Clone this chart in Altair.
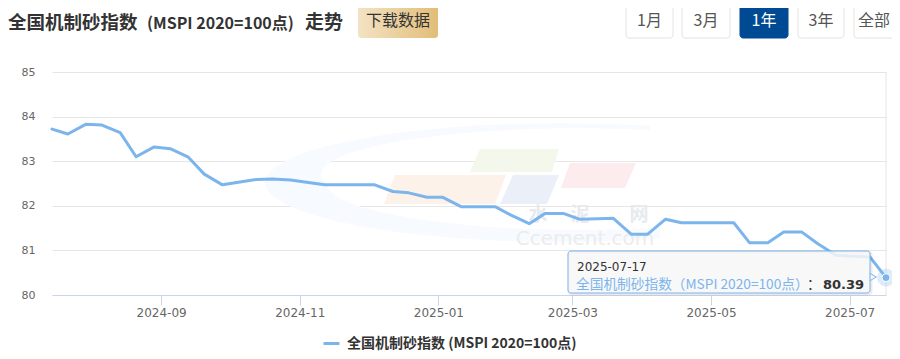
import altair as alt
import pandas as pd

# ---------------- data ----------------
dates = [
    "2024-07-15", "2024-07-22", "2024-07-30", "2024-08-06", "2024-08-14",
    "2024-08-21", "2024-08-29", "2024-09-05", "2024-09-13", "2024-09-20",
    "2024-09-28", "2024-10-05", "2024-10-13", "2024-10-20", "2024-10-28",
    "2024-11-04", "2024-11-12", "2024-11-19", "2024-11-27", "2024-12-04",
    "2024-12-12", "2024-12-19", "2024-12-27", "2025-01-03", "2025-01-11",
    "2025-01-18", "2025-01-26", "2025-02-02", "2025-02-10", "2025-02-17",
    "2025-02-25", "2025-03-04", "2025-03-12", "2025-03-19", "2025-03-27",
    "2025-04-03", "2025-04-11", "2025-04-18", "2025-04-26", "2025-05-03",
    "2025-05-11", "2025-05-18", "2025-05-26", "2025-06-02", "2025-06-10",
    "2025-06-17", "2025-06-25", "2025-07-02", "2025-07-10", "2025-07-17",
]
values = [
    83.72, 83.61, 83.83, 83.81, 83.64, 83.10, 83.32, 83.28, 83.09, 82.71,
    82.47, 82.53, 82.59, 82.60, 82.58, 82.53, 82.47, 82.47, 82.47, 82.47,
    82.32, 82.29, 82.19, 82.19, 81.98, 81.98, 81.98, 81.79, 81.60, 81.83,
    81.83, 81.70, 81.71, 81.72, 81.36, 81.36, 81.70, 81.62, 81.62, 81.62,
    81.62, 81.17, 81.17, 81.41, 81.41, 81.15, 80.89, 80.87, 80.85, 80.39,
]
series_name = "全国机制砂指数 (MSPI 2020=100点)"
tooltip_series = "全国机制砂指数（MSPI 2020=100点）"
x_tick_months = ["2024-09", "2024-11", "2025-01", "2025-03", "2025-05", "2025-07"]
y_ticks = [80, 81, 82, 83, 84, 85]
title_parts = ["全国机制砂指数", "(MSPI 2020=100点)", "走势"]
download_label = "下载数据"
range_buttons = ["1月", "3月", "1年", "3年", "全部"]
active_range = "1年"
watermark_chars = ["水", "泥", "网"]
watermark_site = "Ccement.com"

# ---------------- layout / style ----------------
W, H = 834, 223
CJK = "Noto Sans CJK SC"
LAT = "DejaVu Sans"
LINE_COLOR = "#7cb5ec"

df = pd.DataFrame({"date": pd.to_datetime(dates), "value": values, "series": series_name})
tip = df.tail(1)
dummy = pd.DataFrame({"k": [0]})


def vtext(text, x, y, **kw):
    return alt.Chart(dummy).mark_text(text=text, **kw).encode(x=alt.value(x), y=alt.value(y))


def vrect(x, x2, y, y2, **kw):
    return alt.Chart(dummy).mark_rect(**kw).encode(
        x=alt.value(x), x2=alt.value(x2), y=alt.value(y), y2=alt.value(y2)
    )


def vshape(path, color, x=0, y=0):
    return alt.Chart(dummy).mark_point(
        shape=path, size=4, filled=True, color=color, opacity=1, strokeWidth=0
    ).encode(x=alt.value(x), y=alt.value(y))


layers = []

# ---- watermark (faint logo) ----
crescent = ("M 90 -56 A 295 60 0 0 0 -295 0 A 295 60 0 0 0 100 56.4 "
            "L 100 46 A 258 46 0 0 1 -233 2 A 258 46 0 0 1 90 -52 Z")
layers.append(vshape(crescent, "#f7faff", 508, 110))
layers.append(vshape("M 428 77 L 507 77 L 500 100 L 418 100 Z", "#f4f8ec"))
layers.append(vshape("M 343 103 L 454 103 L 443 132 L 332 132 Z", "#fdf2ea"))
layers.append(vshape("M 461 103 L 507 103 L 495 132 L 448 132 Z", "#ebf0f8"))
layers.append(vshape("M 518 91 L 584 91 L 573 116 L 509 116 Z", "#fdecee"))
for ch, cx in zip(watermark_chars, [486, 528, 587]):
    layers.append(vtext(ch, cx, 143, font=CJK, fontSize=19, fontWeight="bold",
                        color="#e7eaef", align="center", baseline="middle"))
layers.append(vtext(watermark_site, 533, 167, font=LAT, fontSize=20,
                    color="#ececec", align="center", baseline="middle"))

# ---- right plot border ----
layers.append(alt.Chart(dummy).mark_rule(color="#e6e6e6", strokeWidth=1).encode(
    x=alt.value(W), y=alt.value(0), y2=alt.value(H)))

# ---- main line ----
x_vals = [alt.DateTime(year=int(m[:4]), month=int(m[5:]), date=1) for m in x_tick_months]
line = alt.Chart(df).mark_line(strokeWidth=3, strokeJoin="round", strokeCap="round").encode(
    x=alt.X("date:T", scale=alt.Scale(nice=False),
            axis=alt.Axis(values=x_vals, format="%Y-%m", title=None, grid=False,
                          labelColor="#666666", labelFont=LAT, labelFontSize=12,
                          labelFlush=False, labelOverlap=False, labelPadding=2,
                          tickColor="#ccd6eb", tickSize=10, domainColor="#ccd6eb")),
    y=alt.Y("value:Q", scale=alt.Scale(domain=[80, 85], nice=False, zero=False),
            axis=alt.Axis(values=y_ticks, format="d", title=None, grid=True,
                          gridColor="#e6e6e6", domain=False, ticks=False,
                          labelColor="#666666", labelFont=LAT, labelFontSize=11,
                          labelPadding=17)),
    color=alt.Color("series:N", scale=alt.Scale(range=[LINE_COLOR]),
                    legend=alt.Legend(title=None, orient="none", legendX=270, legendY=262,
                                      symbolType="stroke", symbolSize=256,
                                      symbolStrokeWidth=3, labelFont=CJK,
                                      labelFontSize=14, labelFontWeight="bold",
                                      labelColor="#333333", labelOffset=6,
                                      labelLimit=400, padding=0)),
)
layers.append(line)

# ---- tooltip ----
layers.append(vrect(517, 819, 180, 222, filled=False, stroke="#000000",
                    strokeOpacity=0.08, strokeWidth=3, cornerRadius=3))
layers.append(alt.Chart(dummy).mark_point(
    shape="triangle-right", size=60, filled=True, fill="#f7f7f7", stroke=LINE_COLOR,
    strokeWidth=1, opacity=1).encode(x=alt.value(821), y=alt.value(205)))
layers.append(vrect(516, 818, 179, 221, fill="#f7f7f7", fillOpacity=0.85,
                    stroke=LINE_COLOR, strokeWidth=1, cornerRadius=3))
layers.append(alt.Chart(tip).mark_text(align="left", baseline="middle", font=LAT,
                                       fontSize=12, color="#333333").encode(
    x=alt.value(525), y=alt.value(195), text=alt.Text("date:T", format="%Y-%m-%d")))
layers.append(vtext(tooltip_series, 524, 213, font=CJK, fontSize=13.7, color=LINE_COLOR,
                    align="left", baseline="middle"))
layers.append(vtext("：", 755, 213, font=CJK, fontSize=13.7, color="#333333",
                    align="left", baseline="middle"))
layers.append(alt.Chart(tip).mark_text(align="left", baseline="middle", font=LAT,
                                       fontSize=13, fontWeight="bold",
                                       color="#333333").encode(
    x=alt.value(771), y=alt.value(213), text=alt.Text("value:Q", format=".2f")))

# ---- hovered point ----
layers.append(alt.Chart(tip).mark_circle(size=314, color=LINE_COLOR, opacity=0.25).encode(
    x="date:T", y="value:Q"))
layers.append(alt.Chart(tip).mark_circle(size=64, color=LINE_COLOR, opacity=1,
                                         stroke="#ffffff", strokeWidth=1).encode(
    x="date:T", y="value:Q"))

# ---- header ----
layers.append(vtext(title_parts[0], -44, -49, font=CJK, fontSize=18.5, fontWeight="bold",
                    color="#333333", align="left", baseline="middle"))
layers.append(vtext(title_parts[1], 95, -48, font=CJK, fontSize=16, fontWeight="bold",
                    color="#333333", align="left", baseline="middle"))
layers.append(vtext(title_parts[2], 253, -49, font=CJK, fontSize=19, fontWeight="bold",
                    color="#333333", align="left", baseline="middle"))

gold = {"gradient": "linear", "x1": 0, "y1": 0, "x2": 1, "y2": 0,
        "stops": [{"offset": 0, "color": "#f3e3c4"}, {"offset": 1, "color": "#e2bd78"}]}
layers.append(vrect(306, 386, -68, -34, color=gold, cornerRadius=3))
layers.append(vtext(download_label, 346, -51, font=CJK, fontSize=16, color="#333333",
                    align="center", baseline="middle"))

button_x = [(574, 621), (630, 678), (688, 736), (746, 792), (802, 852)]
for label, (bx0, bx1) in zip(range_buttons, button_x):
    active = label == active_range
    layers.append(vrect(bx0, bx1, -68, -34, fill="#004a94" if active else "#ffffff",
                        stroke="#004a94" if active else "#e3e3e3", strokeWidth=1,
                        cornerRadius=3))
    cx = (bx0 + bx1) / 2 if bx1 < 840 else bx0 + 20
    layers.append(vtext(label, cx, -51, font=CJK, fontSize=16,
                        color="#ffffff" if active else "#555555",
                        align="center", baseline="middle"))

chart = alt.layer(*layers).properties(
    width=W, height=H,
    autosize=alt.AutoSizeParams(type="none"),
    padding={"left": 44, "top": 64, "right": 6, "bottom": 56},
).configure_view(strokeWidth=0)

chart.save("out.html", embed_options={"renderer": "svg", "actions": False})
